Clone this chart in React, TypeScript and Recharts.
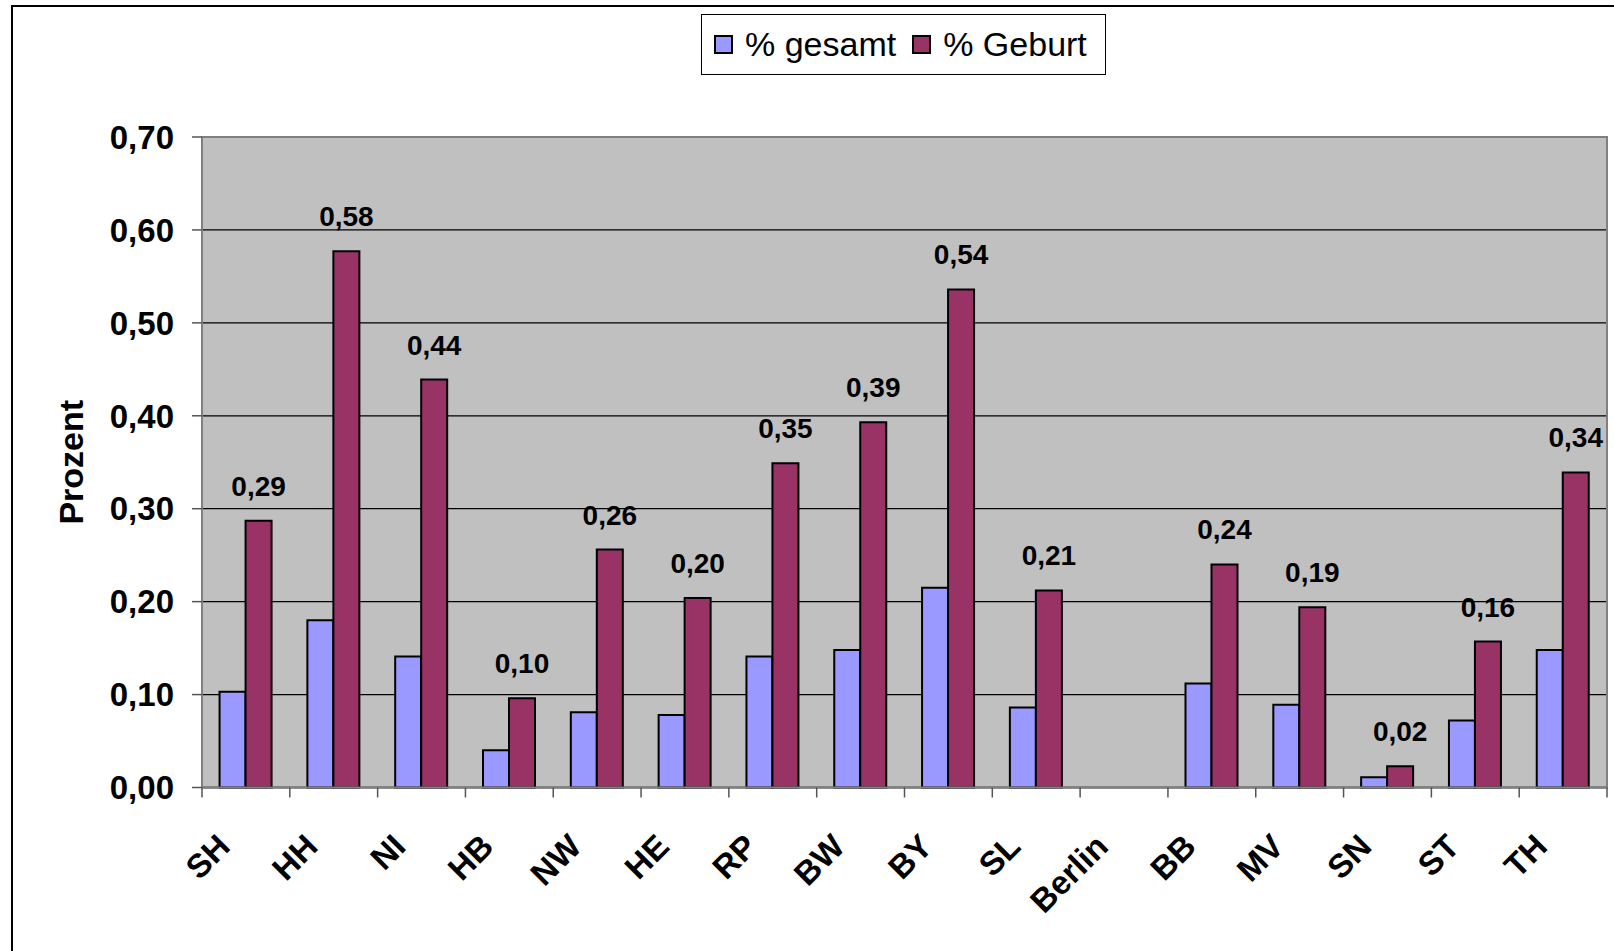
import React from "react";
import {
  Bar,
  BarChart,
  CartesianGrid,
  Label,
  LabelList,
  Legend,
  ReferenceArea,
  XAxis,
  YAxis,
} from "recharts";

const laender = ["SH", "HH", "NI", "HB", "NW", "HE", "RP", "BW", "BY", "SL", "Berlin", "BB", "MV", "SN", "ST", "TH"];
const gesamt = [0.103, 0.18, 0.141, 0.04, 0.081, 0.078, 0.141, 0.148, 0.215, 0.086, null, 0.112, 0.089, 0.011, 0.072, 0.148];
const geburt = [0.287, 0.577, 0.439, 0.096, 0.256, 0.204, 0.349, 0.393, 0.536, 0.212, null, 0.24, 0.194, 0.023, 0.157, 0.339];
const yTicks = [0, 0.1, 0.2, 0.3, 0.4, 0.5, 0.6, 0.7];

const data = laender.map((name, i) => ({ name, gesamt: gesamt[i], geburt: geburt[i] }));

const FONT = "Arial, 'Liberation Sans', sans-serif";
const fmt = (v: number) => v.toFixed(2).replace(".", ",");

const XTick = (props: any) => {
  const { x, y, payload, index, width, visibleTicksCount } = props;
  const half = payload.offset || width / visibleTicksCount / 2;
  const left = x - half;
  const right = x + half;
  return (
    <g>
      <line x1={left} y1={y} x2={left} y2={y + 10} stroke="#555" strokeWidth={1.5} />
      {index === visibleTicksCount - 1 && (
        <line x1={right} y1={y} x2={right} y2={y + 10} stroke="#555" strokeWidth={1.5} />
      )}
      <text
        x={x - 14}
        y={y + 61}
        textAnchor="end"
        transform={`rotate(-45, ${x - 14}, ${y + 61})`}
        fontFamily={FONT}
        fontWeight="bold"
        fontSize={33}
        fill="#000"
      >
        {payload.value}
      </text>
    </g>
  );
};

const ValueLabel = (props: any) => {
  const { x, y, width, value } = props;
  if (value == null) return null;
  return (
    <text
      x={Number(x) + Number(width) / 2}
      y={Number(y) - 25}
      textAnchor="middle"
      fontFamily={FONT}
      fontWeight="bold"
      fontSize={28}
      fill="#000"
    >
      {fmt(Number(value))}
    </text>
  );
};

const AxisTitle = (props: any) => {
  const vb = props.viewBox;
  const tx = vb.x + 1;
  const ty = vb.y + vb.height / 2;
  return (
    <text
      x={tx}
      y={ty}
      textAnchor="middle"
      transform={`rotate(-90, ${tx}, ${ty})`}
      fontFamily={FONT}
      fontWeight="bold"
      fontSize={34}
      fill="#000"
    >
      Prozent
    </text>
  );
};

const Swatch = ({ color }: { color: string }) => (
  <span
    style={{
      display: "inline-block",
      width: 15,
      height: 15,
      background: color,
      border: "2px solid #000",
      marginRight: 12,
    }}
  />
);

const LegendBox = () => (
  <div
    style={{
      boxSizing: "border-box",
      width: 405,
      height: 61,
      border: "1.5px solid #000",
      background: "#fff",
      display: "flex",
      alignItems: "center",
      paddingLeft: 12,
      fontFamily: FONT,
      fontSize: 34,
      color: "#000",
      whiteSpace: "nowrap",
    }}
  >
    <Swatch color="#9999FF" />
    <span style={{ marginRight: 16 }}>% gesamt</span>
    <Swatch color="#993366" />
    <span>% Geburt</span>
  </div>
);

export default function App() {
  return (
    <div
      style={{
        position: "absolute",
        left: 0,
        top: 0,
        width: 1614,
        height: 951,
        overflow: "hidden",
        background: "#fff",
      }}
    >
      <div
        style={{
          position: "absolute",
          left: 11,
          top: 5,
          width: 1700,
          height: 1000,
          border: "2px solid #000",
        }}
      />
      <div style={{ position: "absolute", left: 0, top: 0 }}>
        <BarChart
          width={1614}
          height={951}
          data={data}
          margin={{ top: 137, right: 7, left: 82, bottom: 0 }}
          barCategoryGap="20%"
          barGap={0}
        >
          <CartesianGrid
            vertical={false}
            stroke="#000"
            strokeWidth={1.3}
            fill="#C0C0C0"
            fillOpacity={1}
          />
          <XAxis
            dataKey="name"
            height={163.5}
            interval={0}
            tickLine={false}
            tickSize={0}
            tickMargin={0}
            axisLine={{ stroke: "#808080", strokeWidth: 2 }}
            tick={<XTick />}
          />
          <YAxis
            width={120}
            domain={[0, 0.7]}
            ticks={yTicks}
            tickFormatter={fmt}
            tickSize={10}
            tickMargin={18}
            tickLine={{ stroke: "#555", strokeWidth: 1.5 }}
            axisLine={{ stroke: "#808080", strokeWidth: 2 }}
            tick={{ fontFamily: FONT, fontWeight: "bold", fontSize: 33, fill: "#000" }}
          >
            <Label content={<AxisTitle />} />
          </YAxis>
          <ReferenceArea y1={0} y2={0.7} fill="none" stroke="#808080" strokeWidth={2} />
          <Legend
            layout="horizontal"
            verticalAlign="middle"
            align="center"
            content={<LegendBox />}
            wrapperStyle={{ top: 14, left: 701, width: 405, height: 61 }}
          />
          <Bar
            dataKey="gesamt"
            name="% gesamt"
            fill="#9999FF"
            stroke="#000"
            strokeWidth={2}
            isAnimationActive={false}
          />
          <Bar
            dataKey="geburt"
            name="% Geburt"
            fill="#993366"
            stroke="#000"
            strokeWidth={2}
            isAnimationActive={false}
          >
            <LabelList dataKey="geburt" content={<ValueLabel />} />
          </Bar>
        </BarChart>
      </div>
    </div>
  );
}
